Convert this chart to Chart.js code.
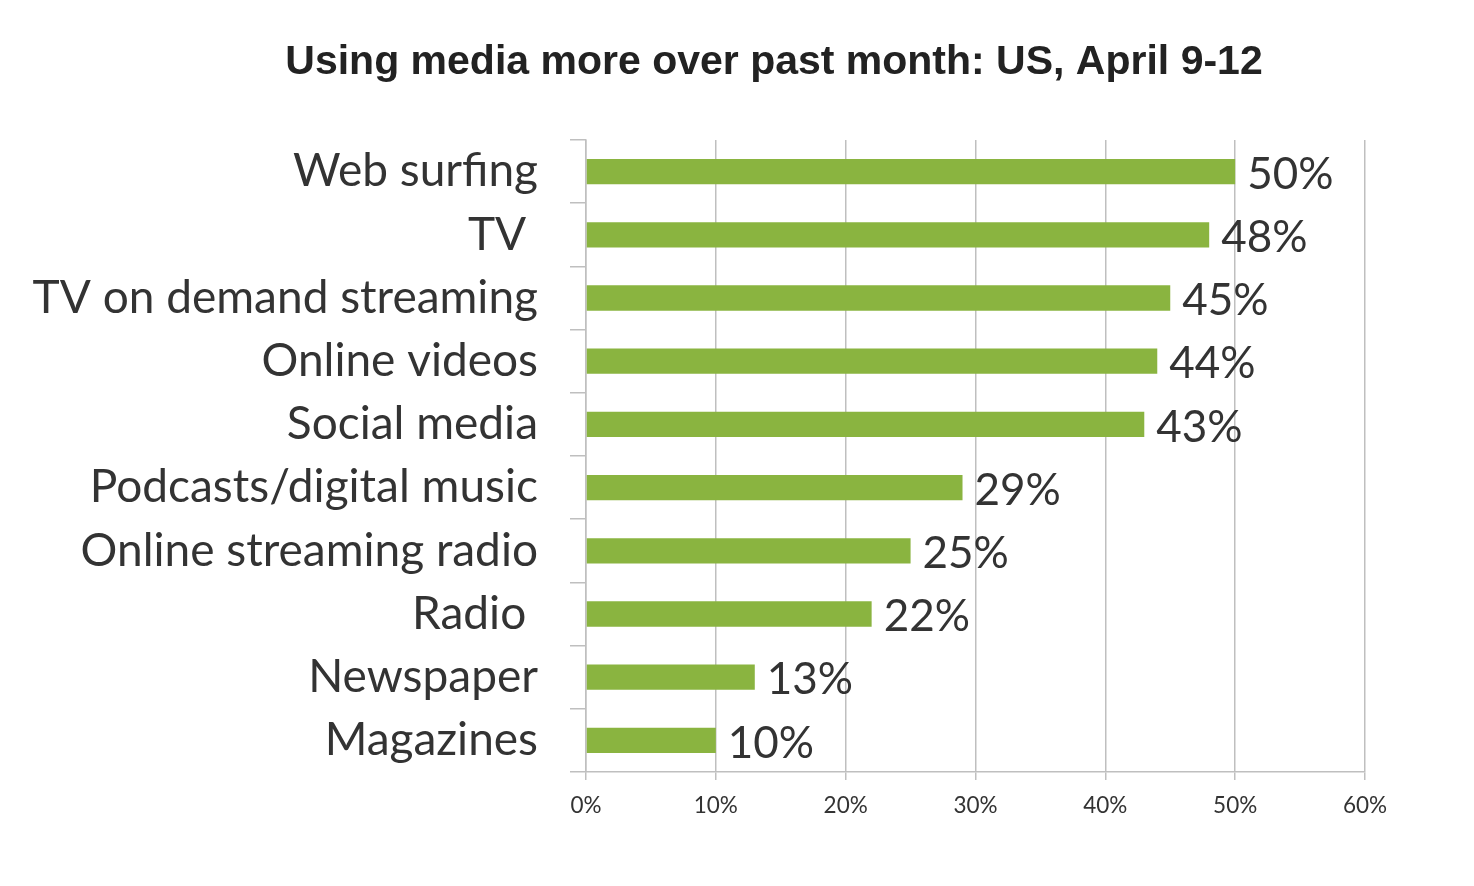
<!DOCTYPE html>
<html>
<head>
<meta charset="utf-8">
<script src="https://cdn.jsdelivr.net/npm/chart.js@4"></script>
<style>
  html, body { margin: 0; padding: 0; background: #fff; }
  #wrap { width: 1474px; height: 886px; }
</style>
</head>
<body>
<div id="wrap"><canvas id="mediaChart"></canvas></div>
<script>
// dati
const categories = ['Web surfing', 'TV ', 'TV on demand streaming', 'Online videos', 'Social media',
    'Podcasts/digital music', 'Online streaming radio', 'Radio ', 'Newspaper', 'Magazines'];
const shares = [50, 48, 45, 44, 43, 29, 25, 22, 13, 10];
const xTicks = [0, 10, 20, 30, 40, 50, 60];
const chartTitle = 'Using media more over past month: US, April 9-12';

const LABEL_FONT = 'Lato, "Open Sans", sans-serif';
const gridGray = '#BFBFBF';

// titolo centrato sulla pagina (non sull'area del grafico)
const pageTitle = {
    id: 'pageTitle',
    afterDraw(chart) {
        const ctx = chart.ctx;
        ctx.save();
        ctx.font = 'bold 41px "Liberation Sans", Arial, sans-serif';
        ctx.fillStyle = '#222222';
        ctx.textAlign = 'center';
        ctx.textBaseline = 'middle';
        ctx.fillText(chartTitle, 774, 63);
        ctx.restore();
    }
};

// etichette dei valori a destra delle barre
const valueLabels = {
    id: 'valueLabels',
    afterDatasetsDraw(chart) {
        const ctx = chart.ctx;
        const meta = chart.getDatasetMeta(0);
        ctx.save();
        ctx.font = '44px ' + LABEL_FONT;
        ctx.fillStyle = '#333333';
        ctx.textAlign = 'left';
        ctx.textBaseline = 'middle';
        meta.data.forEach((bar, i) => {
            ctx.fillText(shares[i] + '%', bar.x + 12, bar.y + 3);
        });
        ctx.restore();
    }
};

new Chart(document.getElementById('mediaChart'), {
    type: 'bar',
    data: {
        labels: categories,
        datasets: [{
            data: shares,
            backgroundColor: '#8AB440',
            borderWidth: 0,
            categoryPercentage: 1,
            barPercentage: 0.4
        }]
    },
    options: {
        indexAxis: 'y',
        responsive: true,
        maintainAspectRatio: false,
        animation: false,
        layout: { padding: { left: 0, right: 109, top: 140, bottom: 0 } },
        plugins: {
            legend: { display: false },
            tooltip: { enabled: false },
            title: { display: false }
        },
        scales: {
            x: {
                min: 0,
                max: 60,
                afterBuildTicks: scale => { scale.ticks = xTicks.map(v => ({ value: v })); },
                afterFit: scale => { scale.height = 114; },
                grid: { color: gridGray, lineWidth: 1.5, tickLength: 8, drawTicks: true },
                border: { color: gridGray, width: 1.5 },
                ticks: {
                    color: '#333333',
                    font: { family: LABEL_FONT, size: 22.5 },
                    padding: 12,
                    maxRotation: 0,
                    callback: v => v + '%'
                }
            },
            y: {
                afterFit: scale => { scale.width = 586; },
                grid: { drawOnChartArea: false, drawTicks: true, tickLength: 16, color: gridGray, lineWidth: 1.5, offset: true },
                border: { color: gridGray, width: 1.5 },
                ticks: {
                    color: '#333333',
                    font: { family: LABEL_FONT, size: 46 },
                    padding: 32,
                    autoSkip: false
                }
            }
        }
    },
    plugins: [valueLabels, pageTitle]
});
</script>
</body>
</html>
